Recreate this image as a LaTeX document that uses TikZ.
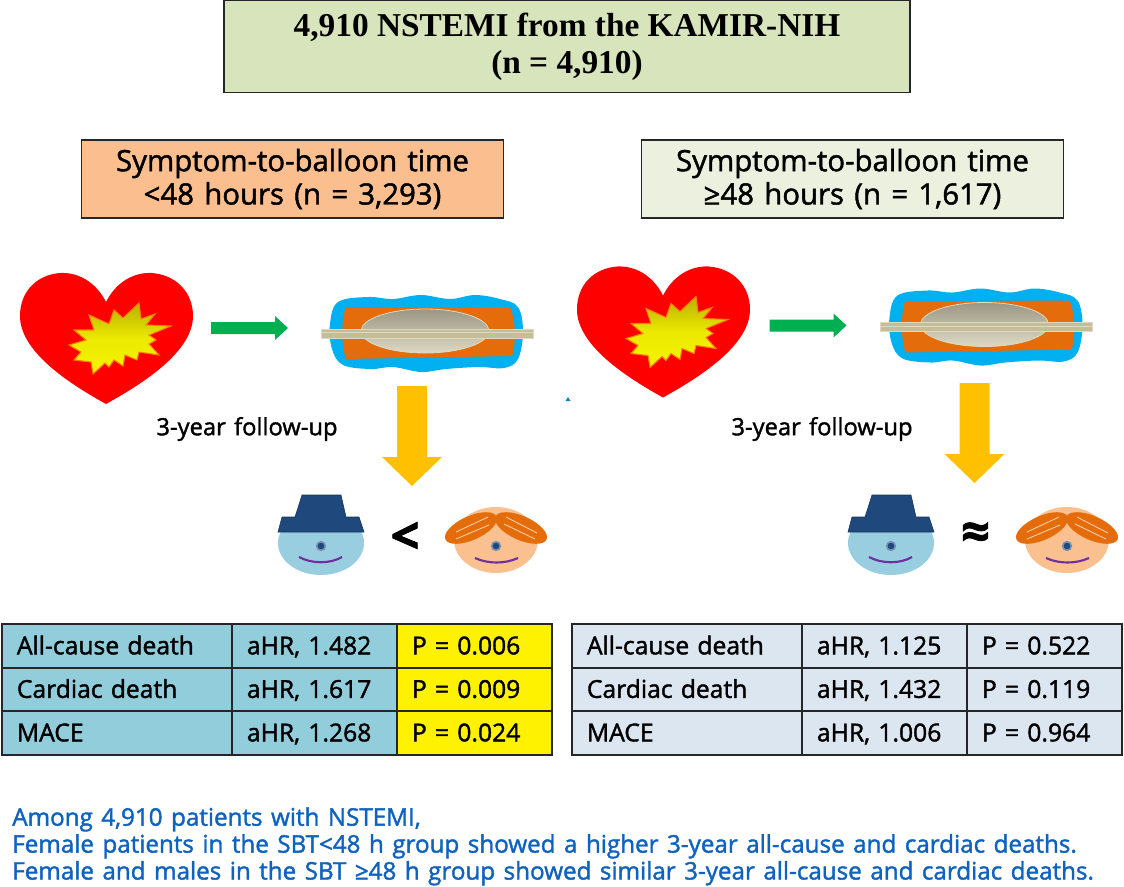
\documentclass[tikz,border=0pt]{standalone}
\usepackage{fontspec}
\setmainfont{Open Sans}[FakeBold=1.6, WordSpace=1.35]
\newfontfamily\TitleFont{Liberation Serif}
\usepackage{xcolor}
\usepackage{tikz}
\usetikzlibrary{positioning, calc}

\definecolor{HeartRed}{HTML}{FF0000}
\definecolor{ArrowGreen}{HTML}{00B050}
\definecolor{ArrowGold}{HTML}{FFC000}
\definecolor{VesselBlue}{HTML}{00B0F0}
\definecolor{PlaqueOrange}{HTML}{E46C0A}
\definecolor{HatBlue}{HTML}{1F497D}
\definecolor{ManFace}{HTML}{98CEDF}
\definecolor{WomanFace}{HTML}{FAC090}
\definecolor{SmilePurple}{HTML}{7030A0}
\definecolor{TitleGreen}{HTML}{D8E4BC}
\definecolor{LeftOrange}{HTML}{FBBF8F}
\definecolor{RightGreen}{HTML}{EBF1DE}
\definecolor{LeftCell}{HTML}{92CDDC}
\definecolor{RightCell}{HTML}{DCE6F1}
\definecolor{NoteBlue}{HTML}{0F62BE}
\definecolor{StarTop}{HTML}{B8B000}
\definecolor{StarLow}{HTML}{F4F400}
\definecolor{LensTop}{HTML}{9C9784}
\definecolor{LensLow}{HTML}{DDD9C3}
\definecolor{WireTan}{HTML}{C4BD97}

\begin{document}
\begin{tikzpicture}[x=0.75pt, y=-0.75pt,
		GroupBox/.style={rectangle, draw=black!85, line width=0.9pt, font=\fontsize{22}{25}\selectfont, align=center, minimum width=317pt, minimum height=58.5pt, execute at begin node={\rule{0pt}{20pt}}},
		Cell/.style={rectangle, draw=black!85, line width=1.4pt, anchor=west, align=left, inner xsep=11.25pt, inner ysep=0pt, minimum height=32.6pt, text height=16pt, text depth=3.5pt, font=\fontsize{18.5}{20}\selectfont},
		CellName/.style={Cell, text width=150pt},
		CellHr/.style={Cell, text width=101.25pt},
		CellP/.style={Cell, text width=94pt},
		FollowUp/.style={font=\fontsize{17.8}{20}\selectfont},
		SignText/.style={font=\bfseries\fontsize{38}{42}\selectfont},
		EyeDot/.style={circle, fill=HatBlue, draw=HatBlue!60, line width=1.2pt, inner sep=0pt, minimum size=6.5pt},
		HeartPic/.pic={
			% Heart with the star in it
			\fill[HeartRed] (106,302) .. controls (96,282) and (78,272) .. (60,273)
				.. controls (36,275) and (20,292) .. (20,316)
				.. controls (20,352) and (70,384) .. (106,404)
				.. controls (142,384) and (193,352) .. (193,316)
				.. controls (193,292) and (176,275) .. (152,273)
				.. controls (134,272) and (116,282) .. (106,302) -- cycle;
			\draw[draw=orange, line width=0.8pt, top color=StarTop, bottom color=StarLow, middle color=StarLow!85!StarTop]
				(139,303) -- (141,319) -- (155,314) -- (146,325) -- (171,326) -- (149,335) -- (156,340)
				-- (149,344) -- (159,355) -- (139,352) -- (137,360) -- (125,355) -- (123,366) -- (114,360)
				-- (109,367) -- (105,363) -- (93,374) -- (91,362) -- (74,360) -- (81,352) -- (69,345)
				-- (86,340) -- (74,330) -- (94,330) -- (89,315) -- (109,324) -- (114,310) -- (123,318) -- cycle;
		},
		GreenArrow/.pic={
			\fill[ArrowGreen] (211,322) -- (275,322) -- (275,316) -- (288,328) -- (275,340) -- (275,334) -- (211,334) -- cycle;
		},
		VesselPic/.pic={
			% Vessel with balloon
			\fill[VesselBlue] plot[smooth cycle, tension=0.6] coordinates {(330,322) (338,300) (368,295) (393,297) (421,293) (450,297) (475,293) (500,297) (518,305) (523,330) (518,357) (504,366) (479,365) (446,367) (421,370) (393,365) (371,367) (343,363) (332,347)};
			\fill[PlaqueOrange] (346,306) -- (510,305) .. controls (516,318) and (516,342) .. (512,354) -- (346,357) .. controls (341,342) and (341,318) .. (346,306) -- cycle;
			\draw[draw=LensLow, line width=0.6pt, top color=LensTop, bottom color=LensLow] (425,329) ellipse [x radius=64, y radius=22];
			\draw[draw=LensLow, line width=0.5pt, fill=WireTan] (321,327) rectangle (533,336);
			\draw[LensLow, line width=0.5pt] (321,330.5) -- (533,330.5);
		},
		GoldArrow/.pic={
			\fill[ArrowGold] (397,386) -- (427,386) -- (427,457) -- (442,457) -- (412,486) -- (382,457) -- (397,457) -- cycle;
		},
		ManPic/.pic={
			\fill[ManFace] (321,543) ellipse [x radius=43, y radius=32];
			\draw[draw=HatBlue!70!black, fill=HatBlue, line width=0.4pt] (302,495) -- (341,495) -- (346,517) -- (359,517) -- (364,532) -- (278,532) -- (282,517) -- (295,517) -- cycle;
			\node[EyeDot] (ManEye) at (321,546) {};
			\draw[SmilePurple, line width=1.6pt] (299,557) .. controls (312,564) and (330,564) .. (342,557);
		},
		WomanPic/.pic={
			\fill[WomanFace] (496,540) ellipse [x radius=42, y radius=33];
			\fill[PlaqueOrange, rotate around={24:(471,528)}] (471,528) ellipse [x radius=28, y radius=12];
			\fill[PlaqueOrange, rotate around={-24:(521,528)}] (521,528) ellipse [x radius=28, y radius=12];
			\draw[white!70!orange, line width=0.6pt] (456,532) -- (488,517) (456,539) -- (489,525) (506,517) -- (537,533) (504,524) -- (535,539);
			\node[EyeDot] (WomanEye) at (496,546) {};
			\draw[SmilePurple, line width=1.6pt] (475,558) .. controls (488,564) and (505,564) .. (518,558);
		}]

	\useasboundingbox (0,0) rectangle (1124,886);

	% Boxes
	\node[GroupBox, fill=TitleGreen, minimum width=514.5pt, minimum height=68.5pt, execute at begin node={\rule{0pt}{22.5pt}}, font=\TitleFont\bfseries\fontsize{25}{28}\selectfont] (TitleBox) at (567,46.5) {4,910 NSTEMI from the KAMIR-NIH\\(n = 4,910)};
	\node[GroupBox, fill=LeftOrange] (LeftBox) at (292.5,179) {Symptom-to-balloon time\\<48 hours (n = 3,293)};
	\node[GroupBox, fill=RightGreen] (RightBox) at (852.5,179) {Symptom-to-balloon time\\≥48 hours (n = 1,617)};

	% Left group
	\pic (LeftHeart) at (0,0) {HeartPic};
	\pic (LeftGreen) at (0,0) {GreenArrow};
	\pic (LeftVessel) at (0,2) {VesselPic};
	\pic (LeftArrow) at (0,0) {GoldArrow};
	\node[FollowUp] (LeftFollow) at (247,429) {3-year follow-up};
	\pic (LeftMan) at (0,0) {ManPic};
	\node[SignText] (LeftSign) at (405,538) {<};
	\pic (LeftWoman) at (0,0) {WomanPic};

	% Right group
	\pic (RightHeart) at (557,-6.5) {HeartPic};
	\pic (RightGreen) at (558.5,-2.5) {GreenArrow};
	\pic (RightVessel) at (559.5,-4.5) {VesselPic};
	\pic (RightArrow) at (562.5,-3) {GoldArrow};
	\node[FollowUp] (RightFollow) at (822,429) {3-year follow-up};
	\pic (RightMan) at (570,0) {ManPic};
	\node[SignText] (RightSign) at (975.5,536) {≈};
	\pic (RightWoman) at (571,0) {WomanPic};

	\fill[HatBlue!40!VesselBlue] (565.5,401) -- (568,397) -- (570.5,401) -- cycle;

	% Left table
	\node[CellName, fill=LeftCell] (LeftNameA) at (1,646) {All-cause death};
	\node[CellName, fill=LeftCell] (LeftNameB) at (1,689.5) {Cardiac death};
	\node[CellName, fill=LeftCell] (LeftNameC) at (1,733) {MACE};
	\node[CellHr, fill=LeftCell] (LeftHrA) at (231,646) {aHR, 1.482};
	\node[CellHr, fill=LeftCell] (LeftHrB) at (231,689.5) {aHR, 1.617};
	\node[CellHr, fill=LeftCell] (LeftHrC) at (231,733) {aHR, 1.268};
	\node[CellP, fill=yellow] (LeftPA) at (396,646) {P = 0.006};
	\node[CellP, fill=yellow] (LeftPB) at (396,689.5) {P = 0.009};
	\node[CellP, fill=yellow] (LeftPC) at (396,733) {P = 0.024};

	% Right table
	\node[CellName, fill=RightCell] (RightNameA) at (571,646) {All-cause death};
	\node[CellName, fill=RightCell] (RightNameB) at (571,689.5) {Cardiac death};
	\node[CellName, fill=RightCell] (RightNameC) at (571,733) {MACE};
	\node[CellHr, fill=RightCell] (RightHrA) at (801,646) {aHR, 1.125};
	\node[CellHr, fill=RightCell] (RightHrB) at (801,689.5) {aHR, 1.432};
	\node[CellHr, fill=RightCell] (RightHrC) at (801,733) {aHR, 1.006};
	\node[CellP, fill=RightCell] (RightPA) at (966,646) {P = 0.522};
	\node[CellP, fill=RightCell] (RightPB) at (966,689.5) {P = 0.119};
	\node[CellP, fill=RightCell] (RightPC) at (966,733) {P = 0.964};

	% Summary
	\node[anchor=north west, inner sep=0pt, align=left, text=NoteBlue, font=\fontsize{18.15}{20.2}\selectfont] (Summary) at (12,807) {Among 4,910 patients with NSTEMI,\\Female patients in the SBT<48 h group showed a higher 3-year all-cause and cardiac deaths.\\Female and males in the SBT ≥48 h group showed similar 3-year all-cause and cardiac deaths.};
\end{tikzpicture}
\end{document}
